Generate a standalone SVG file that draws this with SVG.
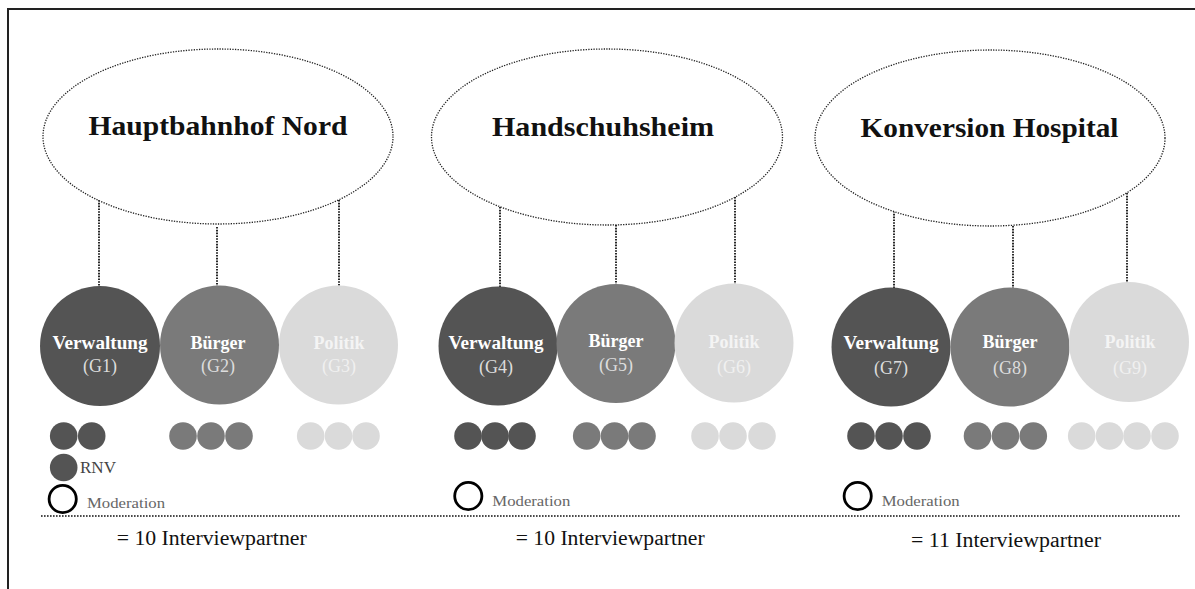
<svg xmlns="http://www.w3.org/2000/svg" width="1195" height="589" viewBox="0 0 1195 589">
<style>
.frame{stroke:#222;stroke-width:2;fill:none}
.ell{fill:#fff;stroke:#222;stroke-width:1.3;stroke-dasharray:1.3 1.3}
.con{stroke:#111;stroke-width:1.8;stroke-dasharray:1.6 1.2;fill:none}
.title{font-family:"Liberation Serif",serif;font-weight:bold;font-size:28px;fill:#111;text-anchor:middle}
.lbl{font-family:"Liberation Serif",serif;font-weight:bold;font-size:18px;fill:#fff;text-anchor:middle}
.sub{font-family:"Liberation Serif",serif;font-size:18px;fill:#ddd;text-anchor:middle}
.lbl3{fill:#f4f4f4}
.sub3{fill:#f0f0f0}
.dk{fill:#545454}
.md{fill:#7a7a7a}
.lt{fill:#dadada}
.mod{fill:none;stroke:#000;stroke-width:2.8}
.small{font-family:"Liberation Serif",serif;font-size:15px;fill:#666}
.rnv{font-family:"Liberation Serif",serif;font-size:16px;fill:#444}
.sum{font-family:"Liberation Serif",serif;font-size:20px;fill:#111}
.sep{stroke:#111;stroke-width:1.6;stroke-dasharray:1.6 1.4}
</style>
<rect width="1195" height="589" fill="#fff"/>
<path class="frame" d="M8,589 V9 H1195"/>

<g id="connectors">
<line class="con" x1="99" y1="200" x2="99" y2="287"/>
<line class="con" x1="217" y1="227" x2="217" y2="287"/>
<line class="con" x1="339" y1="200" x2="339" y2="287"/>
<line class="con" x1="500" y1="207" x2="500" y2="287"/>
<line class="con" x1="616" y1="225" x2="616" y2="284"/>
<line class="con" x1="735" y1="197" x2="735" y2="284"/>
<line class="con" x1="894" y1="211" x2="894" y2="288"/>
<line class="con" x1="1013" y1="226" x2="1013" y2="288"/>
<line class="con" x1="1127" y1="193" x2="1127" y2="283"/>
</g>

<g id="area1">
<ellipse class="ell" cx="218" cy="136.5" rx="175" ry="87.5"/>
<text class="title" x="218" y="135" textLength="259" lengthAdjust="spacingAndGlyphs">Hauptbahnhof Nord</text>
</g>
<g id="area2">
<ellipse class="ell" cx="607" cy="137" rx="175.5" ry="88"/>
<text class="title" x="603" y="136" textLength="222" lengthAdjust="spacingAndGlyphs">Handschuhsheim</text>
</g>
<g id="area3">
<ellipse class="ell" cx="990" cy="138" rx="175" ry="88"/>
<text class="title" x="989.5" y="137" textLength="258" lengthAdjust="spacingAndGlyphs">Konversion Hospital</text>
</g>

<g id="G1">
<circle class="dk" cx="100" cy="346" r="60"/>
<text class="lbl" x="100" y="349" textLength="95" lengthAdjust="spacingAndGlyphs">Verwaltung</text>
<text class="sub" x="100" y="372">(G1)</text>
</g>
<g id="G2">
<circle class="md" cx="219.5" cy="345" r="59.5"/>
<text class="lbl" x="218" y="349">Bürger</text>
<text class="sub" x="218" y="372">(G2)</text>
</g>
<g id="G3">
<circle class="lt" cx="338.5" cy="345" r="59.5"/>
<text class="lbl lbl3" x="339" y="349">Politik</text>
<text class="sub sub3" x="339" y="372">(G3)</text>
</g>

<g id="G4">
<circle class="dk" cx="498" cy="346" r="59.5"/>
<text class="lbl" x="496" y="349" textLength="95" lengthAdjust="spacingAndGlyphs">Verwaltung</text>
<text class="sub" x="496" y="373">(G4)</text>
</g>
<g id="G5">
<circle class="md" cx="616" cy="343.5" r="59.5"/>
<text class="lbl" x="616" y="347">Bürger</text>
<text class="sub" x="616" y="371">(G5)</text>
</g>
<g id="G6">
<circle class="lt" cx="734" cy="343" r="59.5"/>
<text class="lbl lbl3" x="734" y="348">Politik</text>
<text class="sub sub3" x="734" y="373">(G6)</text>
</g>

<g id="G7">
<circle class="dk" cx="891" cy="347" r="59.5"/>
<text class="lbl" x="891" y="349" textLength="95" lengthAdjust="spacingAndGlyphs">Verwaltung</text>
<text class="sub" x="891" y="374">(G7)</text>
</g>
<g id="G8">
<circle class="md" cx="1010" cy="347" r="59.5"/>
<text class="lbl" x="1010" y="348">Bürger</text>
<text class="sub" x="1010" y="374">(G8)</text>
</g>
<g id="G9">
<circle class="lt" cx="1129" cy="342" r="60"/>
<text class="lbl lbl3" x="1130" y="348">Politik</text>
<text class="sub sub3" x="1130" y="374">(G9)</text>
</g>

<g id="participants1">
<circle class="dk" cx="63.7" cy="436" r="13.8"/>
<circle class="dk" cx="91.7" cy="436" r="13.8"/>
<circle class="md" cx="183" cy="436" r="13.8"/>
<circle class="md" cx="211" cy="436" r="13.8"/>
<circle class="md" cx="239" cy="436" r="13.8"/>
<circle class="lt" cx="310.7" cy="436" r="13.8"/>
<circle class="lt" cx="338.5" cy="436" r="13.8"/>
<circle class="lt" cx="366" cy="436" r="13.8"/>
<circle class="dk" cx="63.7" cy="467.5" r="13.8"/>
<text class="rnv" x="80" y="473" textLength="36" lengthAdjust="spacingAndGlyphs">RNV</text>
<circle class="mod" cx="62.7" cy="499" r="13.6"/>
<text class="small" x="87" y="508" textLength="78" lengthAdjust="spacingAndGlyphs">Moderation</text>
</g>
<g id="participants2">
<circle class="dk" cx="468" cy="436" r="13.8"/>
<circle class="dk" cx="495" cy="436" r="13.8"/>
<circle class="dk" cx="522" cy="436" r="13.8"/>
<circle class="md" cx="586.7" cy="436" r="13.8"/>
<circle class="md" cx="614.5" cy="436" r="13.8"/>
<circle class="md" cx="642" cy="436" r="13.8"/>
<circle class="lt" cx="705" cy="436" r="13.8"/>
<circle class="lt" cx="733" cy="436" r="13.8"/>
<circle class="lt" cx="762" cy="436" r="13.8"/>
<circle class="mod" cx="468.3" cy="496" r="13.6"/>
<text class="small" x="492.3" y="505.5" textLength="78" lengthAdjust="spacingAndGlyphs">Moderation</text>
</g>
<g id="participants3">
<circle class="dk" cx="861" cy="436" r="13.8"/>
<circle class="dk" cx="889" cy="436" r="13.8"/>
<circle class="dk" cx="917" cy="436" r="13.8"/>
<circle class="md" cx="977.5" cy="436" r="13.8"/>
<circle class="md" cx="1005.5" cy="436" r="13.8"/>
<circle class="md" cx="1033.3" cy="436" r="13.8"/>
<circle class="lt" cx="1081.7" cy="436" r="13.8"/>
<circle class="lt" cx="1109.5" cy="436" r="13.8"/>
<circle class="lt" cx="1137" cy="436" r="13.8"/>
<circle class="lt" cx="1165" cy="436" r="13.8"/>
<circle class="mod" cx="857.7" cy="496" r="13.6"/>
<text class="small" x="881.7" y="505.5" textLength="78" lengthAdjust="spacingAndGlyphs">Moderation</text>
</g>

<line class="sep" x1="41" y1="516" x2="1180" y2="516"/>

<g id="totals">
<text class="sum" x="116.7" y="545" textLength="190" lengthAdjust="spacingAndGlyphs">= 10 Interviewpartner</text>
<text class="sum" x="515.7" y="545" textLength="189" lengthAdjust="spacingAndGlyphs">= 10 Interviewpartner</text>
<text class="sum" x="911" y="546.5" textLength="190" lengthAdjust="spacingAndGlyphs">= 11 Interviewpartner</text>
</g>
</svg>
